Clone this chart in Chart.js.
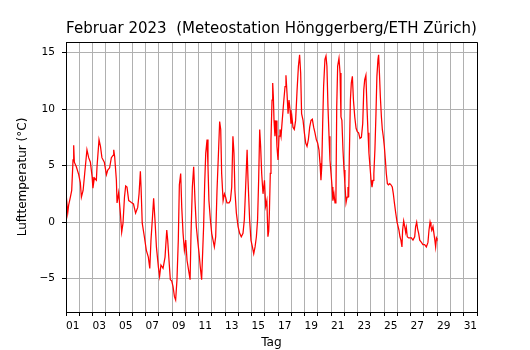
<!DOCTYPE html>
<html><head><meta charset="utf-8">
<script src="https://cdn.jsdelivr.net/npm/chart.js@4"></script>
<style>html,body{margin:0;padding:0;background:#fff}</style>
</head><body>
<canvas id="c" width="530" height="350"></canvas>
<script>
const titleText = 'Februar 2023  (Meteostation Hönggerberg/ETH Zürich)';
const xTitle = 'Tag';
const yTitle = 'Lufttemperatur (°C)';

// time in days since the start of 1 February (label "01" sits at the middle of day 1)
const times = [
0.0,0.03,0.13,0.20,0.33,0.43,0.53,0.58,0.63,0.78,0.96,1.08,1.16,1.29,1.41,1.58,1.71,1.84,1.97,2.03,2.14,2.29,2.34,2.49,2.60,2.71,2.89,3.05,3.15,3.29,3.42,3.55,3.60,3.67,3.80,3.85,3.97,4.10,4.20,4.30,4.41,4.50,4.60,4.73,4.86,4.96,
5.09,5.25,5.41,5.51,5.61,5.66,5.75,5.91,6.06,6.21,6.32,6.41,6.51,6.61,6.71,6.82,6.97,7.06,7.16,7.32,7.47,7.60,7.67,7.77,7.87,7.97,8.07,8.18,8.27,8.37,8.47,8.55,8.65,8.73,8.83,8.93,9.03,9.13,9.28,9.36,9.43,9.53,9.63,9.73,9.83,9.93,10.04,10.13,10.23,
10.31,10.38,10.46,10.54,10.64,10.71,10.78,10.89,10.99,11.09,11.19,11.29,11.39,11.49,11.59,11.67,11.74,11.85,11.95,12.04,12.14,12.30,12.40,12.50,12.59,12.67,12.74,12.85,12.98,13.10,13.22,13.35,13.45,13.55,13.66,13.73,13.85,13.95,14.06,14.16,14.26,14.36,14.45,14.53,14.61,14.68,14.76,14.86,14.97,15.06,15.15,15.23,15.29,15.34,
15.41,15.46,15.54,15.59,15.64,15.69,15.76,15.84,15.91,15.99,16.07,16.14,16.22,16.31,16.41,16.52,16.59,16.67,16.75,16.82,16.90,16.97,17.04,17.12,17.22,17.32,17.43,17.53,17.62,17.70,17.77,17.88,17.98,18.08,18.18,18.28,18.38,18.48,18.58,18.68,18.78,18.88,18.98,19.08,19.16,19.23,19.29,19.36,19.43,19.53,19.61,19.68,19.76,19.84,19.91,19.99,20.07,20.13,20.21,20.29,20.36,
20.42,20.49,20.59,20.67,20.74,20.81,20.89,20.97,21.04,21.12,21.20,21.27,21.32,21.37,21.45,21.52,21.60,21.68,21.78,21.88,21.97,22.07,22.17,22.28,22.38,22.46,22.53,22.62,22.70,22.78,22.85,22.93,23.01,23.08,23.16,23.22,23.30,23.38,23.45,23.53,23.58,23.64,23.71,23.79,23.86,23.93,24.01,24.09,24.16,24.24,24.32,24.42,24.51,24.61,24.69,24.77,24.87,24.97,25.04,25.11,25.19,25.26,25.34,
25.39,25.47,25.55,25.62,25.67,25.74,25.84,25.92,26.05,26.17,26.30,26.37,26.45,26.52,26.60,26.68,26.81,26.92,27.05,27.18,27.30,27.38,27.46,27.53,27.60,27.68,27.75,27.83,27.88,27.94,27.98
];
const temps = [
1.8,2.2,0.8,1.5,2.2,2.8,5.5,6.8,5.3,4.9,4.2,3.5,2.2,2.8,4.3,6.4,5.7,5.3,4.0,3.0,3.9,3.7,4.9,7.3,6.7,5.7,5.3,4.2,4.6,4.8,5.7,5.9,6.4,5.8,3.7,1.7,2.6,0.8,-0.9,-0.1,2.2,3.2,3.1,1.9,1.8,1.7,
1.6,0.8,1.3,2.5,4.5,3.1,-0.1,-1.3,-2.5,-3.1,-4.1,-1.6,0.2,2.1,0.2,-2.2,-4.0,-4.8,-3.8,-4.1,-3.1,-0.7,-1.6,-3.4,-5.1,-5.2,-5.7,-6.6,-6.9,-5.1,-1.6,3.3,4.3,1.3,-1.0,-2.5,-1.6,-3.4,-4.5,-5.1,-1.0,3.1,4.9,1.9,-0.4,-1.6,-2.8,-4.0,-5.1,
-2.6,-0.4,3.4,6.1,7.3,4.9,1.9,0.2,-1.0,-1.6,-2.2,-1.3,2.8,5.8,8.9,8.2,4.3,1.9,2.5,2.2,1.7,1.7,1.9,3.1,7.6,6.1,2.8,0.8,-0.4,-1.0,-1.3,-1.0,0.2,3.1,6.4,3.7,0.2,-1.6,-2.2,-2.8,-2.2,-1.3,0.2,3.7,8.2,6.7,4.3,2.5,3.7,1.4,1.9,-1.3,-0.8,0.8,
4.3,7.3,10.8,12.3,11.1,9.0,7.6,9.0,6.7,5.5,7.6,8.2,7.6,9.0,10.5,12.0,13.0,11.4,9.6,10.8,9.9,8.7,9.3,8.4,8.2,9.0,11.7,13.8,14.8,13.2,9.6,9.0,7.9,7.0,6.7,7.3,8.4,9.0,9.1,8.4,7.9,7.3,7.0,6.4,5.2,3.7,4.9,8.7,12.0,14.4,14.7,13.8,10.2,7.6,5.5,4.3,3.1,1.9,2.5,1.7,2.2,
10.2,13.8,14.5,13.2,9.3,9.0,6.4,4.6,3.4,1.7,2.2,3.1,2.2,5.8,10.8,12.3,12.9,10.8,9.3,8.3,8.0,7.9,7.4,7.5,8.7,11.7,12.6,13.0,10.2,7.9,6.1,4.9,3.7,3.1,3.7,4.3,6.4,9.6,12.9,14.4,14.8,13.2,11.1,9.3,8.2,7.6,6.7,5.5,4.3,3.4,3.3,3.4,3.3,3.1,2.5,1.7,0.8,0.0,0.0,-0.7,-1.3,-1.6,-2.2,
-0.7,0.1,-0.4,-0.9,-0.5,-1.3,-1.4,-1.4,-1.4,-1.6,-1.3,-0.4,0.0,-0.6,-1.0,-1.6,-1.8,-2.0,-2.0,-2.2,-1.8,-0.7,0.0,-0.4,-0.7,-0.4,-1.0,-1.7,-2.2,-1.4,-1.5
];

const dayLabels = ['01','03','05','07','09','11','13','15','17','19','21','23','25','27','29','31'];
const yTickValues = [-5, 0, 5, 10, 15];
const xRange = [0, 31];
const yRange = [-7.96, 15.94];

const F = 'DejaVu Sans';
const labelAt = {};
dayLabels.forEach(d => { labelAt[String(parseInt(d, 10) - 0.5)] = d; });
const xTickValues = [];
for (let d = xRange[0]; d <= xRange[1]; d++) xTickValues.push(d);
Object.keys(labelAt).forEach(k => xTickValues.push(parseFloat(k)));
xTickValues.sort((a, b) => a - b);

const isDayEdge = c => c.tick && Number.isInteger(c.tick.value);

const frame = {
  id: 'frame',
  afterDraw(chart) {
    const {ctx, chartArea: a} = chart;
    ctx.save();
    ctx.strokeStyle = '#000';
    ctx.lineWidth = 1;
    const l = Math.round(a.left) + 0.5, r = Math.round(a.right) + 0.5;
    const t = Math.round(a.top) + 0.5, b = Math.round(a.bottom) + 0.5;
    ctx.beginPath();
    ctx.moveTo(l, b); ctx.lineTo(l, t); ctx.lineTo(r, t); ctx.lineTo(r, b); ctx.lineTo(l, b);
    ctx.stroke();
    ctx.restore();
  }
};

new Chart(document.getElementById('c'), {
  type: 'line',
  data: {
    datasets: [{
      data: times.map((t, i) => ({x: t, y: temps[i]})),
      borderColor: '#ff0000',
      borderWidth: 1.25,
      pointRadius: 0,
      tension: 0,
      fill: false
    }]
  },
  options: {
    responsive: false,
    animation: false,
    layout: {padding: {left: 0, right: 53, top: 0, bottom: 0}},
    plugins: {
      legend: {display: false},
      tooltip: {enabled: false},
      title: {
        display: true, text: titleText, fullSize: false, color: '#000',
        font: {family: F, size: 15, weight: 'normal'},
        padding: {top: 20.5, bottom: 3.5}
      }
    },
    scales: {
      x: {
        type: 'linear', min: xRange[0], max: xRange[1],
        afterBuildTicks: s => { s.ticks = xTickValues.map(v => ({value: v})); },
        afterFit: s => { s.height = 38; },
        ticks: {
          autoSkip: false, maxRotation: 0, minRotation: 0, padding: 4, color: '#000',
          font: {family: F, size: 10.6},
          callback: v => labelAt[String(v)] || ''
        },
        grid: {
          color: c => isDayEdge(c) ? '#b0b0b0' : 'rgba(0,0,0,0)',
          tickColor: c => isDayEdge(c) ? '#000' : 'rgba(0,0,0,0)',
          tickLength: 4, lineWidth: 1
        },
        border: {color: '#000', width: 1},
        title: {display: true, text: xTitle, color: '#000', font: {family: F, size: 12.2}, padding: {top: 0, bottom: 0}}
      },
      y: {
        type: 'linear', min: yRange[0], max: yRange[1],
        afterBuildTicks: s => { s.ticks = yTickValues.map(v => ({value: v})); },
        afterFit: s => { s.width = 66; },
        ticks: {
          padding: 7, color: '#000', font: {family: F, size: 10.6},
          callback: v => v < 0 ? '\u2212' + Math.abs(v) : String(v)
        },
        grid: {color: '#b0b0b0', tickColor: '#000', tickLength: 4, lineWidth: 1},
        border: {color: '#000', width: 1},
        title: {display: true, text: yTitle, color: '#000', font: {family: F, size: 12}, padding: {top: 16, bottom: 0}}
      }
    }
  },
  plugins: [frame]
});
</script>
</body></html>
